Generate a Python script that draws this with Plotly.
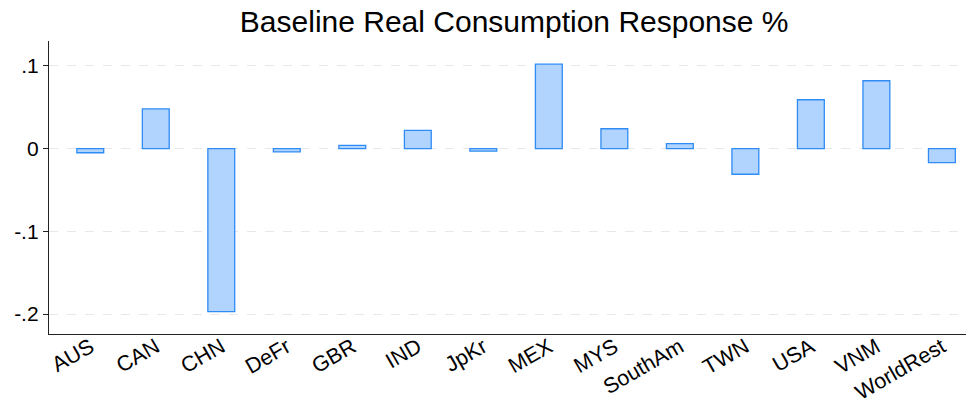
import plotly.graph_objects as go

regions = ["AUS", "CAN", "CHN", "DeFr", "GBR", "IND", "JpKr", "MEX",
           "MYS", "SouthAm", "TWN", "USA", "VNM", "WorldRest"]
response = [-0.005, 0.048, -0.197, -0.004, 0.004, 0.022, -0.003, 0.102,
            0.024, 0.006, -0.031, 0.059, 0.082, -0.017]
ytick_vals = [0.1, 0.0, -0.1, -0.2]
ytick_text = [".1", "0", "-.1", "-.2"]

fig = go.Figure(go.Bar(
    x=regions, y=response,
    width=0.41,
    marker=dict(color="#b0d4fd", line=dict(color="#2f8cf5", width=1.3)),
))

# page body has an 8px margin, so the figure is sized/offset to compensate
fig.update_layout(
    title=dict(text="Baseline Real Consumption Response %", x=0.524, xanchor="center",
               y=0.966, yanchor="middle",
               font=dict(family="Liberation Sans", size=30, color="black")),
    width=966, height=392,
    margin=dict(l=41, r=0, t=33, b=66),
    plot_bgcolor="white", paper_bgcolor="white",
    showlegend=False,
    font=dict(family="Liberation Sans", color="black"),
)
fig.update_xaxes(
    range=[-0.63, 13.49], tickangle=-30, tickfont=dict(size=21.5),
    ticklabelstandoff=-9,
    showline=True, linecolor="#222", linewidth=1.3, showgrid=False,
    ticks="", zeroline=False, automargin=False,
)
fig.update_yaxes(
    range=[-0.224, 0.13], tickvals=ytick_vals, ticktext=ytick_text,
    tickfont=dict(size=21), ticks="outside", ticklen=5, tickcolor="#222",
    showline=True, linecolor="#222", linewidth=1.3,
    showgrid=True, gridcolor="#e8e8e8", gridwidth=1.3, griddash="dash",
    zeroline=False, automargin=False,
)

fig.write_html("out.html")
